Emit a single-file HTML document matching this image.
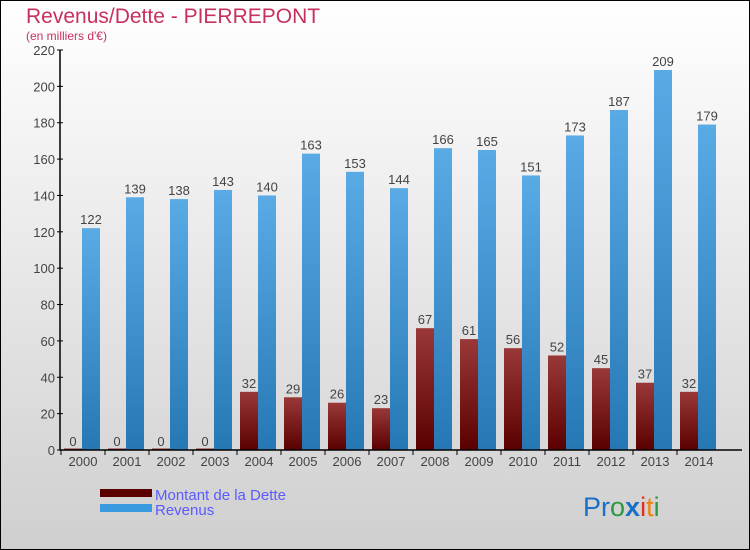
<!DOCTYPE html>
<html><head><meta charset="utf-8"><style>
body{margin:0}
svg{display:block;font-family:"Liberation Sans",sans-serif}
</style></head><body>
<svg id="c" width="750" height="550" viewBox="0 0 750 550">
<defs>
<linearGradient id="bg" x1="0" y1="0" x2="0" y2="1"><stop offset="0" stop-color="#ffffff"/><stop offset="1" stop-color="#cfcfcf"/></linearGradient>
<linearGradient id="gb" x1="0" y1="0" x2="0" y2="1"><stop offset="0" stop-color="#5aaae6"/><stop offset="1" stop-color="#2678b4"/></linearGradient>
<linearGradient id="gr" x1="0" y1="0" x2="0" y2="1"><stop offset="0" stop-color="#9a3838"/><stop offset="1" stop-color="#5a0000"/></linearGradient>
</defs>
<rect x="0.5" y="0.5" width="749" height="549" fill="url(#bg)" stroke="#000"/>
<text x="26" y="23" font-size="21" fill="#c8305e">Revenus/Dette - PIERREPONT</text>
<text x="26" y="40" font-size="12" fill="#c8305e">(en milliers d'€)</text>
<g id="plot"></g>
<g>
<rect x="100" y="489" width="52" height="8" fill="#5a0000"/>
<text x="155" y="500" font-size="15" fill="#5a5aff">Montant de la Dette</text>
<rect x="100" y="504" width="52" height="8" fill="#3a9ae0"/>
<text x="155" y="515" font-size="15" fill="#5a5aff">Revenus</text>
</g>
<text x="583" y="516" font-size="27"><tspan fill="#1a70c8">Pr</tspan><tspan fill="#2a9a40">o</tspan><tspan fill="#1a70c8" font-weight="bold">x</tspan><tspan fill="#e03020">i</tspan><tspan fill="#f08010">t</tspan><tspan fill="#2a9a40">i</tspan></text>
</svg>
<script>
const years=["2000","2001","2002","2003","2004","2005","2006","2007","2008","2009","2010","2011","2012","2013","2014"];
const dette=[0,0,0,0,32,29,26,23,67,61,56,52,45,37,32];
const revenus=[122,139,138,143,140,163,153,144,166,165,151,173,187,209,179];
const yTicks=[0,20,40,60,80,100,120,140,160,180,200,220];
const NS="http://www.w3.org/2000/svg";
const g=document.getElementById('plot');
function y(v){return 450-v*400/220;}
function x(i){return 83+i*44;}
function mk(t,a,p){const e=document.createElementNS(NS,t);for(const k in a)e.setAttribute(k,a[k]);(p||g).appendChild(e);return e;}
yTicks.forEach(v=>{
  const t=mk('text',{x:55,y:y(v)+5,'font-size':13,fill:'#444','text-anchor':'end'});t.textContent=v;
  
  
  mk('line',{x1:57,x2:63,y1:y(v),y2:y(v),stroke:'#000'});
});
years.forEach((yr,i)=>{
  const cx=x(i);
  const hd=Math.max(dette[i]*400/220,1.5);
  const r1=mk('rect',{x:cx-19,y:450-hd,width:18,height:hd,fill:'url(#gr)'});
  
  
  const hr=revenus[i]*400/220;
  const r2=mk('rect',{x:cx-1,y:450-hr,width:18,height:hr,fill:'url(#gb)'});
  
  
  const l1=mk('text',{x:cx-10,y:y(dette[i])-4,'font-size':13,fill:'#444','text-anchor':'middle'});l1.textContent=dette[i];
  
  
  const l2=mk('text',{x:cx+8,y:y(revenus[i])-4,'font-size':13,fill:'#444','text-anchor':'middle'});l2.textContent=revenus[i];
  
  
  const xl=mk('text',{x:cx,y:466,'font-size':13,fill:'#444','text-anchor':'middle'});xl.textContent=yr;
  
  
  mk('line',{x1:cx-22,x2:cx-22,y1:450,y2:455,stroke:'#000'});
});
const ax=mk('path',{d:'M60 50 V450 H742',stroke:'#000',fill:'none','stroke-width':1.5});


</script>
</body></html>
